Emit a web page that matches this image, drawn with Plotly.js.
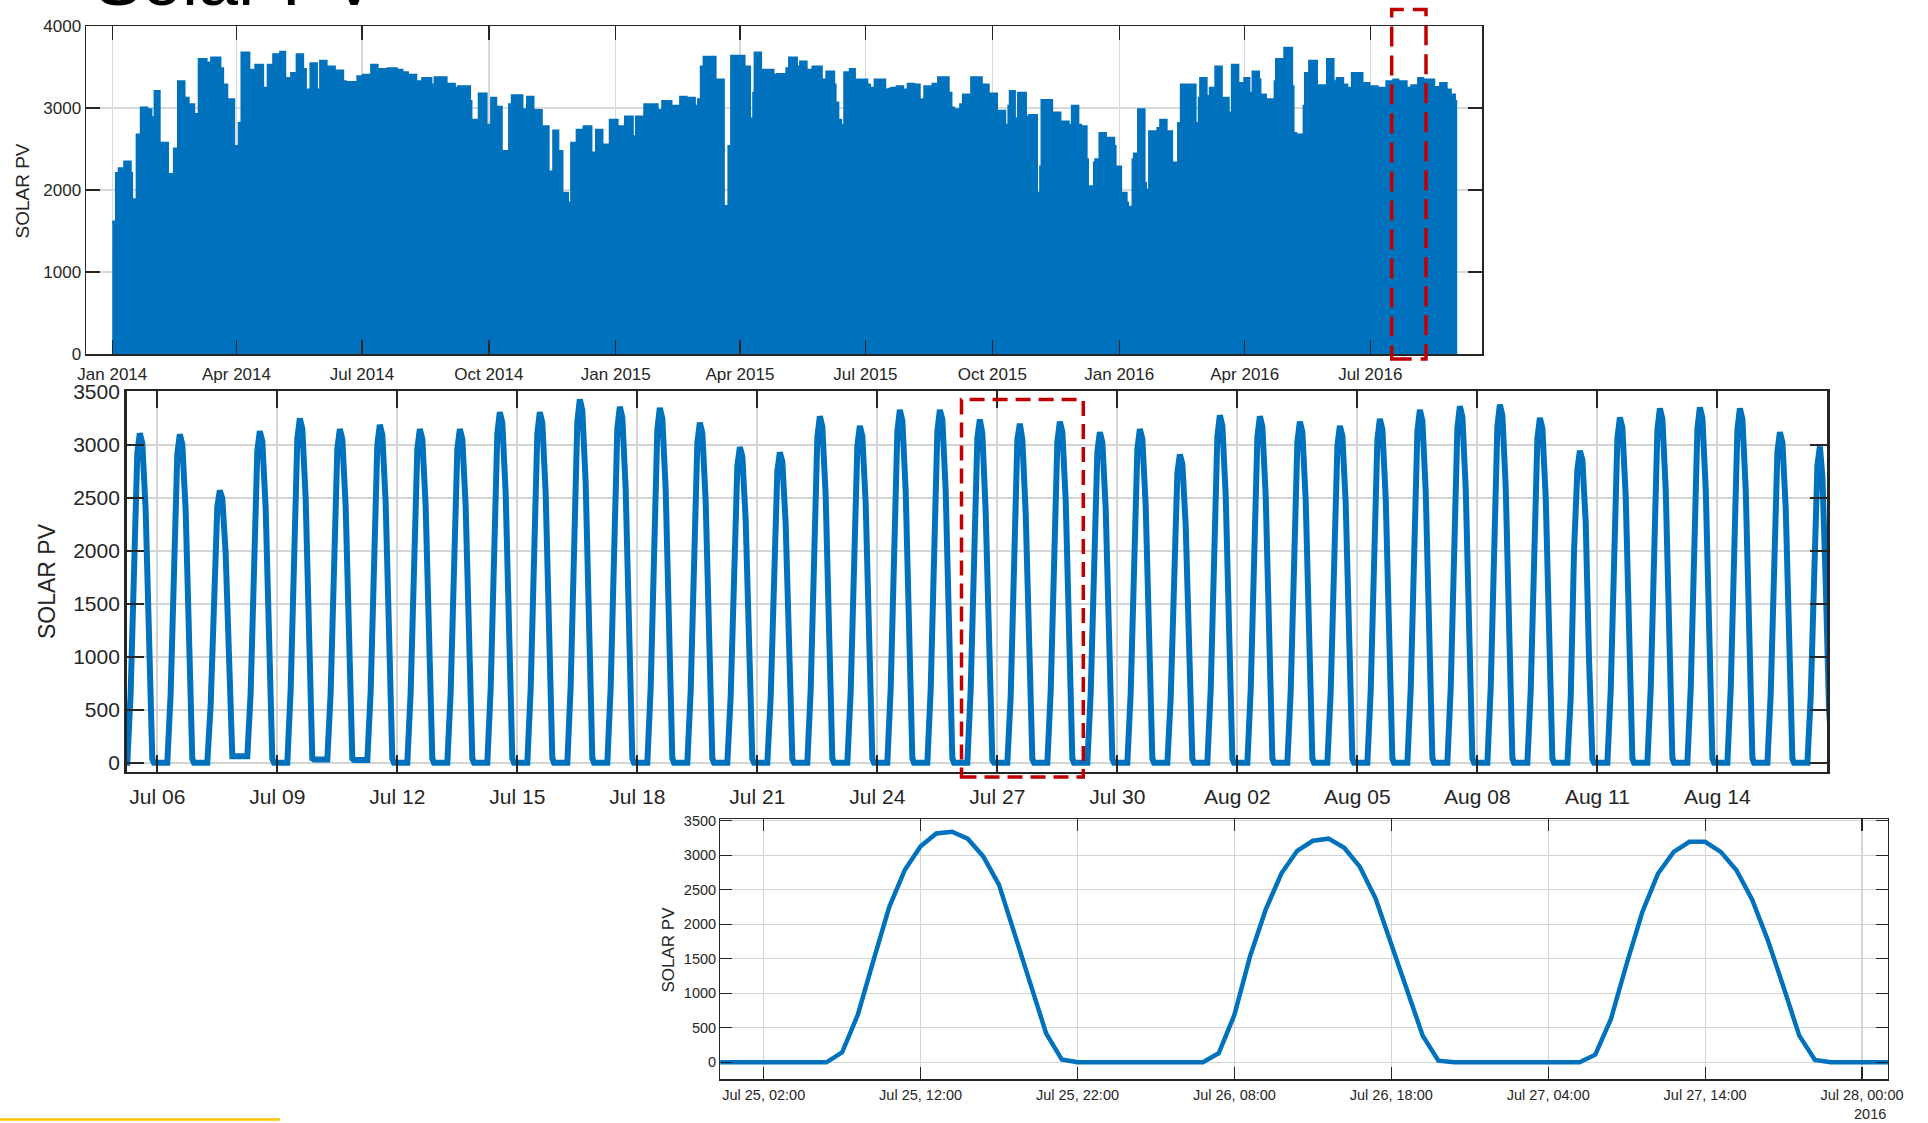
<!DOCTYPE html>
<html>
<head>
<meta charset="utf-8">
<script src="https://cdn.plot.ly/plotly-3.0.1.min.js"></script>
<style>
html,body{margin:0;padding:0;background:#ffffff;}
#chart{width:1928px;height:1123px;}
</style>
</head>
<body>
<div id="chart"></div>
<script>
// ================= DATA =================
// Top panel: envelope of the hourly SOLAR PV series (daily peak level).
// topDay = days since 2014-01-01 where the peak level changes, topPeak = level from that day on.
const topDay = [
  0,3,5,9,13,14,15,18,21,25,
  28,31,34,36,40,45,48,52,55,59,
  61,63,68,72,78,80,83,88,92,94,
  99,104,109,113,117,121,122,125,130,134,
  138,140,141,144,148,151,155,157,161,163,
  167,169,174,176,178,182,188,192,200,206,
  210,214,216,220,225,
  231,234,242,248,251,259,260,262,265,266,
  271,275,278,282,288,290,297,301,305,307,
  311,316,317,320,323,326,330,332,333,337,
  342,347,348,351,355,361,366,372,377,380,
  384,386,395,399,405,407,411,412,416,418,
  422,425,427,429,437,443,447,449,458,462,
  465,466,470,472,
  479,480,482,488,489,491,496,499,503,508,
  514,518,523,524,526,528,531,535,538,547,
  549,553,560,563,565,569,573,577,581,582,
  585,589,593,595,599,606,608,610,613,615,
  617,621,623,630,635,636,641,643,647,650,
  651,654,656,657,662,663,664,665,670,673,
  674,681,687,689,693,695,696,700,702,706,
  707,710,712,713,716,
  720,726,727,731,732,735,736,740,741,744,
  748,749,752,756,758,760,764,768,771,772,
  773,775,785,787,788,789,793,796,800,804,
  809,810,812,816,818,821,824,827,831,832,
  833,836,841,843,844,848,850,855,856,858,
  860,864,865,868,873,874,879,881,885,888,
  892,895,897,899,906,911,917,918,923,924,
  929,932,934,938,942,947,950,958,963,967,
  970,973,975
];
const topPeak = [
  1610,2200,2260,2340,2200,1800,1880,2670,3000,2980,
  2880,3200,2190,2570,2190,2500,3320,3120,3040,2370,
  2920,3590,3550,3610,3480,3280,3100,2530,2810,3670,
  3460,3520,3240,3520,3650,3400,3680,3360,3420,3650,
  3470,3040,3220,3540,3220,3570,3460,3500,3340,3450,
  3320,3310,3180,3310,3380,3400,3520,3470,3480,3460,
  3430,3350,3400,3320,3360,
  3280,3370,3290,3240,3260,3080,2730,2850,2790,3170,
  2790,3120,3010,2470,3040,3150,2980,3130,2830,2970,
  2770,1760,2220,2720,2470,1960,1840,1370,2570,2730,
  2770,1800,2450,2730,2550,2850,2770,2890,2650,2890,
  2550,3040,2970,3080,2690,3020,2390,3130,2850,3120,
  3020,3100,3500,3620,3340,1800,2530,3630,3500,2870,
  3180,3670,3100,3460,
  3400,3000,3410,3200,3480,3610,3500,3560,3460,3500,
  3340,3440,3280,3060,2850,2790,3430,3470,3340,3280,
  3240,3340,3220,3230,3240,3260,3220,3290,3260,3280,
  3100,3260,3200,3290,3370,3180,3000,2980,2750,3040,
  3160,3080,3370,3280,3080,3170,2670,2960,2790,3020,
  3200,2870,2450,3180,2890,2120,2200,2910,1960,2280,
  3090,2940,2770,2830,2670,2790,3020,2790,2770,2370,
  2040,1800,2330,2370,2690,
  2630,2530,2280,1680,1960,1840,1790,2370,2440,2980,
  2080,2000,2710,2200,2750,2850,2710,2330,1510,2100,
  2810,3280,2810,2350,3120,3360,3140,3240,3500,3120,
  2650,2940,3520,3000,3300,3360,3180,3440,3340,2960,
  3160,3100,2790,3320,3590,3240,3730,3260,2690,2220,
  2670,3020,3420,3570,3240,3270,3250,3590,3320,3360,
  3280,3240,3060,3420,3300,3260,3200,3240,3160,3320,
  3340,3260,3320,3240,3270,3360,3340,3250,3300,3220,
  3160,3080,3080
];

// Middle panel: 2016-07-05 .. 2016-08-16, readings at these hours of each day
const midDays = [
  '2016-07-05','2016-07-06','2016-07-07','2016-07-08','2016-07-09','2016-07-10','2016-07-11',
  '2016-07-12','2016-07-13','2016-07-14','2016-07-15','2016-07-16','2016-07-17','2016-07-18',
  '2016-07-19','2016-07-20','2016-07-21','2016-07-22','2016-07-23','2016-07-24','2016-07-25',
  '2016-07-26','2016-07-27','2016-07-28','2016-07-29','2016-07-30','2016-07-31','2016-08-01',
  '2016-08-02','2016-08-03','2016-08-04','2016-08-05','2016-08-06','2016-08-07','2016-08-08',
  '2016-08-09','2016-08-10','2016-08-11','2016-08-12','2016-08-13','2016-08-14','2016-08-15',
  '2016-08-16'
];
const midHours = [0, 6, 8, 10, 12, 13.5, 15, 17, 19, 21, 22];
const midPV = [
  [0,0,653,2115,2923,3110,3017,2395,1026,37,0],
  [0,0,651,2108,2914,3100,3007,2387,1023,37,0],
  [0,0,540,1748,2416,2570,2493,1979,848,60,60],
  [60,60,657,2128,2942,3130,3036,2410,1033,38,0],
  [0,0,683,2210,3055,3250,3153,2503,1073,39,30],
  [30,30,662,2142,2961,3150,3056,2426,1040,38,25],
  [25,25,670,2169,2999,3190,3094,2456,1053,38,0],
  [0,0,662,2142,2961,3150,3056,2426,1040,38,0],
  [0,0,662,2142,2961,3150,3056,2426,1040,38,0],
  [0,0,695,2251,3111,3310,3211,2549,1092,40,0],
  [0,0,695,2251,3111,3310,3211,2549,1092,40,0],
  [0,0,720,2332,3224,3430,3327,2641,1132,41,0],
  [0,0,706,2285,3158,3360,3259,2587,1109,40,0],
  [0,0,704,2278,3149,3350,3250,2580,1106,40,0],
  [0,0,674,2183,3017,3210,3114,2472,1059,39,0],
  [0,0,626,2026,2801,2980,2891,2295,983,36,0],
  [0,0,615,1992,2754,2930,2842,2256,967,35,0],
  [0,0,687,2224,3074,3270,3172,2518,1079,39,0],
  [0,0,668,2162,2989,3180,3085,2449,1049,38,0],
  [0,0,699,2264,3130,3330,3230,2564,1099,40,0],
  [0,0,690,2250,3130,3330,3240,2570,1110,40,0],
  [0,0,688,2215,3064,3240,3107,2372,1065,24,0],
  [0,0,629,2178,3049,3200,3049,2357,1089,34,0],
  [0,0,676,2190,3027,3220,3123,2479,1063,39,0],
  [0,0,655,2122,2933,3120,3026,2402,1030,37,0],
  [0,0,662,2142,2961,3150,3056,2426,1040,38,0],
  [0,0,611,1979,2735,2910,2823,2241,960,35,0],
  [0,0,689,2230,3083,3280,3182,2526,1082,39,0],
  [0,0,687,2224,3074,3270,3172,2518,1079,39,0],
  [0,0,676,2190,3027,3220,3123,2479,1063,39,0],
  [0,0,668,2162,2989,3180,3085,2449,1049,38,0],
  [0,0,681,2207,3050,3245,3148,2499,1071,39,0],
  [0,0,699,2264,3130,3330,3230,2564,1099,40,0],
  [0,0,707,2288,3163,3365,3264,2591,1110,40,0],
  [0,0,710,2298,3177,3380,3279,2603,1115,41,0],
  [0,0,684,2213,3060,3255,3157,2506,1074,39,0],
  [0,0,618,2003,2768,2945,2857,2268,972,35,0],
  [0,0,685,2217,3064,3260,3162,2510,1076,39,0],
  [0,0,702,2275,3144,3345,3245,2576,1104,40,0],
  [0,0,705,2281,3154,3355,3254,2583,1107,40,0],
  [0,0,702,2275,3144,3345,3245,2576,1104,40,0],
  [0,0,655,2122,2933,3120,3026,2402,1030,37,0],
  [0,0,627,2030,2806,2985,2700,1700,500,20,0]
];

// Bottom panel: hourly readings from 2016-07-24 23:00 to 2016-07-28 02:00
const botStart = '2016-07-24 23:00';
const botPV = [
  0,
  0,0,0,0,0,0,0,145,690,1480,2250,2790,3130,3315,3340,3240,2980,2570,1850,1110,420,40,0,0,
  0,0,0,0,0,0,0,131,688,1537,2215,2739,3064,3210,3240,3107,2831,2372,1718,1065,387,24,0,0,
  0,0,0,0,0,0,0,111,629,1428,2178,2735,3049,3194,3194,3049,2783,2357,1767,1089,387,34,0,0,
  0,0,0
];

const yTitle = 'SOLAR PV';
const slideTitle = 'Solar PV';
const yearLabel = '2016';

// ================= BUILD =================
const DAY = 864e5, HOUR = 36e5;
function fmt(ms){ return new Date(ms).toISOString().slice(0,19).replace('T',' '); }
function parseUTC(s){ return Date.parse(s.replace(' ','T') + (s.length > 10 ? ':00Z' : 'T00:00:00Z')); }

const topT0 = Date.UTC(2014,0,1);
const topX = topDay.map(d => fmt(topT0 + d*DAY));

const midX = [], midY = [];
midDays.forEach((d,i) => {
  const t = parseUTC(d);
  midHours.forEach((h,j) => { midX.push(fmt(t + h*HOUR)); midY.push(midPV[i][j]); });
});

const botT = parseUTC(botStart);
const botX = botPV.map((v,i) => fmt(botT + i*HOUR));

const BLUE = '#0072BD';
const FONT = 'Liberation Sans, Arial, Helvetica, sans-serif';
const AX = '#262626';
const W = 1928, H = 1123;
const px = v => v / W;
const py = v => 1 - v / H;

const traces = [
  {x: topX, y: topPeak, type:'scatter', mode:'lines', xaxis:'x', yaxis:'y',
   line:{color:BLUE, width:3, shape:'hv'}, fill:'tozeroy', fillcolor:BLUE, hoverinfo:'skip'},
  {x: midX, y: midY, type:'scatter', mode:'lines', xaxis:'x2', yaxis:'y2',
   line:{color:BLUE, width:6}, hoverinfo:'skip'},
  {x: botX, y: botPV, type:'scatter', mode:'lines', xaxis:'x3', yaxis:'y3',
   line:{color:BLUE, width:4.5}, hoverinfo:'skip'}
];

function axBase(o){
  return Object.assign({
    ticks:'inside', tickcolor:AX, showline:true, linecolor:AX, mirror:'ticks',
    showgrid:true, zeroline:false, fixedrange:true, automargin:false,
    tickfont:{family:FONT, color:AX}
  }, o);
}

const midT0 = Date.UTC(2016,6,6);
const botT0 = Date.UTC(2016,6,25,2);

const layout = {
  width:W, height:H, margin:{l:0,r:0,t:0,b:0, pad:0},
  paper_bgcolor:'#ffffff', plot_bgcolor:'#ffffff', showlegend:false,
  font:{family:FONT, color:AX},
  xaxis: axBase({domain:[px(86), px(1482.3)], anchor:'y', type:'date',
    range:[fmt(topT0 - 19.07*DAY), fmt(topT0 + 993.2*DAY)],
    tick0:'2014-01-01', dtick:'M3', tickformat:'%b %Y', ticklabelstandoff:4,
    ticklen:14, tickwidth:1.3, linewidth:1.5, gridcolor:'#d9d9d9', gridwidth:1.3,
    tickfont:{family:FONT, color:AX, size:17}}),
  yaxis: axBase({domain:[py(354), py(26)], anchor:'x', range:[0,4000], dtick:1000,
    ticklen:14, tickwidth:1.3, linewidth:1.5, gridcolor:'#d9d9d9', gridwidth:1.3,
    tickfont:{family:FONT, color:AX, size:17}}),
  xaxis2: axBase({domain:[px(126.6), px(1827)], anchor:'y2', type:'date',
    range:[fmt(midT0 - 0.7675*DAY), fmt(midT0 + 41.74*DAY)],
    tick0:'2016-07-06', dtick:3*DAY, tickformat:'%b %d', ticklabelstandoff:5,
    ticklen:17, tickwidth:2.2, linewidth:2.5, gridcolor:'#d4d4d4', gridwidth:2,
    tickfont:{family:FONT, color:AX, size:21}}),
  yaxis2: axBase({domain:[py(771.7), py(391)], anchor:'x2', range:[-85,3509], dtick:500, tick0:0,
    ticklen:17, tickwidth:2.2, linewidth:2.5, gridcolor:'#d4d4d4', gridwidth:2,
    tickfont:{family:FONT, color:AX, size:21}}),
  xaxis3: axBase({domain:[px(720.3), px(1887.9)], anchor:'y3', type:'date',
    range:[fmt(botT0 - 2.766*HOUR), fmt(botT0 + 71.65*HOUR)],
    tick0:'2016-07-25 02:00', dtick:10*HOUR, tickformat:'%b %d, %H:%M', ticklabelstandoff:2,
    ticklen:12, tickwidth:1.2, linewidth:1.3, gridcolor:'#d4d4d4', gridwidth:1.2,
    tickfont:{family:FONT, color:AX, size:14.5}}),
  yaxis3: axBase({domain:[py(1079.3), py(819)], anchor:'x3', range:[-246,3525], dtick:500, tick0:0,
    ticklen:12, tickwidth:1.2, linewidth:1.3, gridcolor:'#d4d4d4', gridwidth:1.2,
    tickfont:{family:FONT, color:AX, size:14.5}}),
  shapes: [
    {type:'rect', xref:'paper', yref:'paper', x0:px(1391.7), x1:px(1426), y0:py(359), y1:py(9.5),
     line:{color:'#C00000', width:3.5, dash:'20px,9px'}, fillcolor:'rgba(0,0,0,0)', layer:'above'},
    {type:'rect', xref:'paper', yref:'paper', x0:px(961.5), x1:px(1083.3), y0:py(777.1), y1:py(399.6),
     line:{color:'#C00000', width:3.5, dash:'15px,8px'}, fillcolor:'rgba(0,0,0,0)', layer:'above'},
    {type:'line', xref:'paper', yref:'paper', x0:0, x1:px(280), y0:py(1119.5), y1:py(1119.5),
     line:{color:'#FFC000', width:2.5}, layer:'above'}
  ],
  annotations: [
    {text:yTitle, xref:'paper', yref:'paper', x:px(21.5), y:py(191), xanchor:'center', yanchor:'middle',
     textangle:-90, showarrow:false, font:{family:FONT, size:19, color:AX}},
    {text:yTitle, xref:'paper', yref:'paper', x:px(47), y:py(581), xanchor:'center', yanchor:'middle',
     textangle:-90, showarrow:false, font:{family:FONT, size:23, color:AX}},
    {text:yTitle, xref:'paper', yref:'paper', x:px(668), y:py(949.5), xanchor:'center', yanchor:'middle',
     textangle:-90, showarrow:false, font:{family:FONT, size:17, color:AX}},
    {text:yearLabel, xref:'paper', yref:'paper', x:px(1888), y:py(1114), xanchor:'right', yanchor:'middle',
     showarrow:false, font:{family:FONT, size:14.5, color:AX}},
    {text:slideTitle, xref:'paper', yref:'paper', x:px(92), y:py(22), xanchor:'left', yanchor:'bottom',
     showarrow:false, font:{family:FONT, size:72, color:'#000000'}}
  ]
};

Plotly.newPlot('chart', traces, layout, {staticPlot:true, displayModeBar:false});
</script>
</body>
</html>
